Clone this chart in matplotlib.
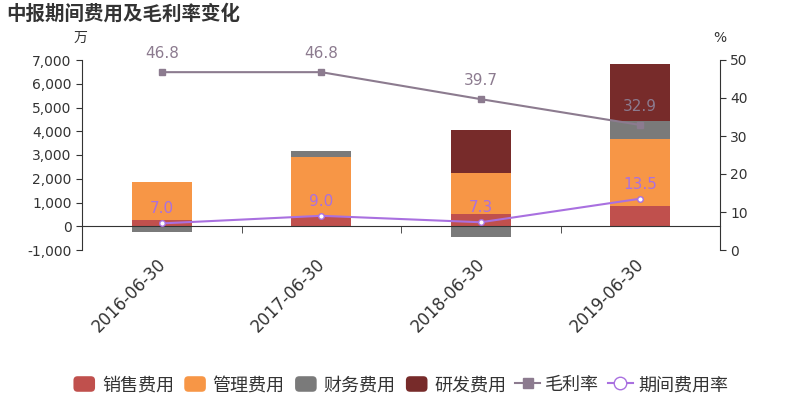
import matplotlib
matplotlib.use("Agg")
import matplotlib.pyplot as plt
import numpy as np
from matplotlib.lines import Line2D
from matplotlib.patches import FancyBboxPatch, Patch
from matplotlib.legend_handler import HandlerPatch
from matplotlib.ticker import FuncFormatter
import matplotlib.transforms as mtrans

plt.rcParams['font.family'] = ['DejaVu Sans', 'Noto Sans CJK SC']

categories = ["2016-06-30", "2017-06-30", "2018-06-30", "2019-06-30"]
sales = [280, 400, 535, 860]
admin = [1590, 2500, 1700, 2800]
finance = [-250, 260, -450, 775]
rnd = [0, 0, 1815, 2390]
gross_margin = [46.8, 46.8, 39.7, 32.9]
expense_rate = [7.0, 9.0, 7.3, 13.5]

series = [("销售费用", sales, "#c0504d"),
          ("管理费用", admin, "#f79646"),
          ("财务费用", finance, "#7a7a7a"),
          ("研发费用", rnd, "#772b2a")]
gm_color = "#8c7b8f"
er_color = "#a970e0"

fig = plt.figure(figsize=(8, 4), dpi=100)
ax = fig.add_axes([0.1025, 0.375, 0.7975, 0.475])
x = np.arange(len(categories))
pos_base = np.zeros(len(x))
neg_base = np.zeros(len(x))
for name, vals, col in series:
    v = np.array(vals, dtype=float)
    base = np.where(v >= 0, pos_base, neg_base)
    ax.bar(x, v, 0.375, bottom=base, color=col, zorder=2)
    pos_base = np.where(v >= 0, pos_base + v, pos_base)
    neg_base = np.where(v < 0, neg_base + v, neg_base)

ax.set_xlim(-0.5, 3.5)
ax.set_ylim(-1000, 7000)
ax.set_yticks(range(-1000, 7001, 1000))
ax.yaxis.set_major_formatter(FuncFormatter(lambda v, p: f"{int(v):,}"))
for s in ['top', 'right']:
    ax.spines[s].set_visible(False)
ax.spines['bottom'].set_position(('data', 0))
for s in ['left', 'bottom']:
    ax.spines[s].set_color('#333333')
ax.set_xticks(x)
ax.set_xticklabels(categories, rotation=45, ha='right', rotation_mode='anchor', fontsize=12, color='#333333')
ax.set_xticks([0.5, 1.5, 2.5], minor=True)
ax.tick_params(axis='x', which='major', length=0, pad=21)
ax.tick_params(axis='x', which='minor', length=5, color='#333333')
ax.tick_params(axis='y', labelsize=10, colors='#333333', length=4)
off = mtrans.ScaledTranslation(-5 / 100, 0, fig.dpi_scale_trans)
for lab in ax.get_xticklabels():
    lab.set_transform(lab.get_transform() + off)

ax2 = ax.twinx()
ax2.set_ylim(0, 50)
ax2.set_yticks(range(0, 51, 10))
for s in ['top', 'left', 'bottom']:
    ax2.spines[s].set_visible(False)
ax2.spines['right'].set_color('#333333')
ax2.tick_params(axis='y', labelsize=10, colors='#333333', length=4)

ax2.plot(x, gross_margin, color=gm_color, lw=1.5, marker='s', ms=4, zorder=3)
ax2.plot(x, expense_rate, color=er_color, lw=1.5, marker='o', ms=4,
         markerfacecolor='white', markeredgecolor=er_color, markeredgewidth=1, zorder=3)
for xi, v in zip(x, gross_margin):
    ax2.annotate(f"{v:.1f}", (xi, v), xytext=(0, 8), textcoords='offset points',
                 ha='center', va='bottom', color=gm_color, fontsize=11)
for xi, v in zip(x, expense_rate):
    ax2.annotate(f"{v:.1f}", (xi, v), xytext=(0, 5), textcoords='offset points',
                 ha='center', va='bottom', color=er_color, fontsize=11)

fig.text(0.008, 0.965, "中报期间费用及毛利率变化", fontsize=14, fontweight='bold',
         color='#333333', va='center', ha='left')
fig.text(0.1, 0.905, "万", fontsize=10, color='#333333', ha='center', va='center')
fig.text(0.9, 0.905, "%", fontsize=10, color='#333333', ha='center', va='center')


class RoundHandler(HandlerPatch):
    def create_artists(self, legend, orig_handle, xdescent, ydescent, width, height, fontsize, trans):
        p = FancyBboxPatch((-xdescent + 1, -ydescent), width - 2, height,
                           boxstyle="round,pad=0,rounding_size=3",
                           facecolor=orig_handle.get_facecolor(), edgecolor='none',
                           transform=trans)
        return [p]


handles = [Patch(facecolor=c, edgecolor=c, label=n) for n, _, c in series]
handles.append(Line2D([], [], color=gm_color, marker='s', ms=7, lw=1.5, label="毛利率"))
handles.append(Line2D([], [], color=er_color, marker='o', ms=9, lw=1.5,
                      markerfacecolor='white', label="期间费用率"))
fig.legend(handles=handles, loc='center', bbox_to_anchor=(0.5, 0.037), ncol=6,
           frameon=False, fontsize=13, handlelength=1.35, handleheight=0.95,
           columnspacing=0.5, handletextpad=0.3, labelcolor='#333333',
           handler_map={Patch: RoundHandler()})

fig.savefig("out.png", dpi=100)
